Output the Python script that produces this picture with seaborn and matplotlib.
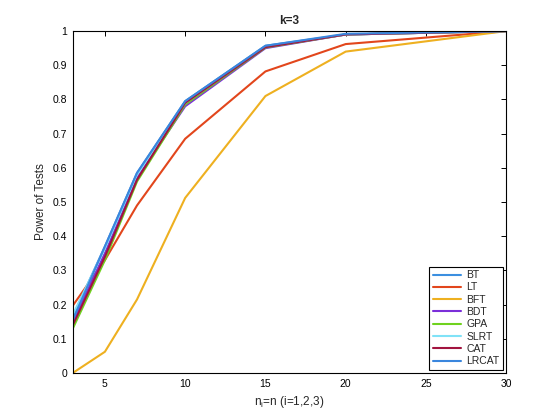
import matplotlib
matplotlib.use("Agg")
import matplotlib.pyplot as plt
import seaborn as sns
import pandas as pd

n_values = [3, 5, 7, 10, 15, 20, 30]
tests = ["BT", "LT", "BFT", "BDT", "GPA", "SLRT", "CAT", "LRCAT"]
BT = [0.165, 0.370, 0.585, 0.795, 0.957, 0.990, 1.0]
LT = [0.197, 0.330, 0.490, 0.685, 0.882, 0.962, 1.0]
BFT = [0.000, 0.062, 0.215, 0.512, 0.810, 0.940, 1.0]
BDT = [0.150, 0.350, 0.570, 0.780, 0.950, 0.990, 1.0]
GPA = [0.130, 0.330, 0.560, 0.785, 0.952, 0.990, 1.0]
SLRT = [0.170, 0.365, 0.580, 0.790, 0.955, 0.990, 1.0]
CAT = [0.140, 0.340, 0.565, 0.790, 0.953, 0.990, 1.0]
LRCAT = [0.155, 0.370, 0.585, 0.795, 0.957, 0.992, 1.0]
series = [BT, LT, BFT, BDT, GPA, SLRT, CAT, LRCAT]
colors = ["#3b8fe0", "#e2461c", "#eeb020", "#7b2fd9", "#6fd21e",
          "#80e2f7", "#a2143f", "#3a86dd"]

rows = []
for name, vals in zip(tests, series):
    for x, v in zip(n_values, vals):
        rows.append({"n": x, "power": v, "Test": name})
df = pd.DataFrame(rows)

sns.set_style("white")
plt.rcParams["font.family"] = ["Liberation Sans", "DejaVu Sans"]
plt.rcParams["mathtext.fontset"] = "custom"
plt.rcParams["mathtext.rm"] = "Liberation Sans"

fig = plt.figure(figsize=(5.6, 4.2), dpi=100)
ax = fig.add_axes([0.13, 0.112, 0.774, 0.814])

sns.lineplot(data=df, x="n", y="power", hue="Test", hue_order=tests,
             palette=dict(zip(tests, colors)), linewidth=1.5, ax=ax,
             legend=True)

ax.set_xlim(3, 30)
ax.set_ylim(0, 1)
ax.set_xticks([5, 10, 15, 20, 25, 30])
yt = [i / 10 for i in range(11)]
ax.set_yticks(yt)
ax.set_yticklabels(["0"] + [f"{v:.1f}" for v in yt[1:-1]] + ["1"])
ax.tick_params(direction="in", top=True, right=True, length=3.5,
               width=0.7, labelsize=7.5, colors="black", pad=4)
for s in ax.spines.values():
    s.set_color("black")
    s.set_linewidth(0.8)
    s.set_visible(True)

ax.set_xlabel(r"$\mathregular{n_i}$=n (i=1,2,3)", fontsize=8.5, color="#262626")
ax.set_ylabel("Power of Tests", fontsize=8.5, color="#262626")
ax.set_title("k=3", fontsize=8.5, fontweight="bold", pad=5)

leg = ax.legend(loc="lower right", fontsize=7.5, frameon=True, fancybox=False,
                edgecolor="black", framealpha=1, borderaxespad=0.3,
                handlelength=2.7, handletextpad=0.5, labelspacing=0.22,
                borderpad=0.35)
leg.get_frame().set_linewidth(0.8)

fig.savefig("out.png", dpi=100)
